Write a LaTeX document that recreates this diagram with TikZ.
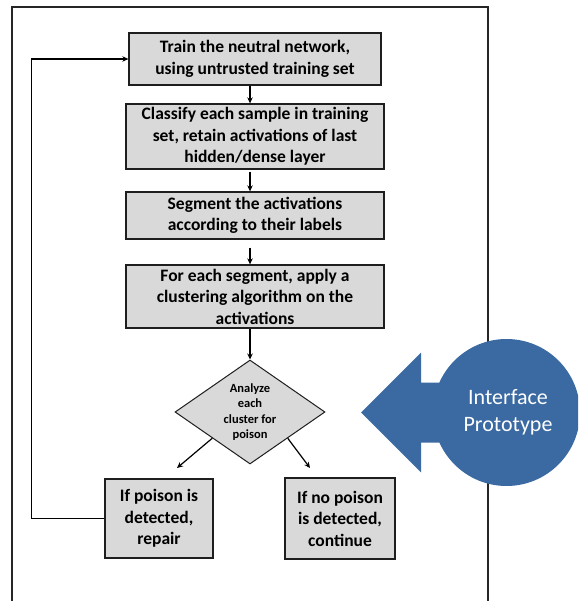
\documentclass[tikz,border=0pt]{standalone}
\usepackage{fontspec}
\setmainfont{Carlito}
\usetikzlibrary{arrows.meta,shapes.geometric,calc}
\definecolor{boxgray}{RGB}{217,217,217}
\definecolor{edgegray}{RGB}{30,30,30}
\definecolor{protoblue}{RGB}{58,106,161}
\begin{document}
\begin{tikzpicture}[x=1pt,y=-1pt,
  stepbox/.style={draw=edgegray,line width=1.3pt,fill=boxgray,align=center,
    inner sep=0pt,font=\bfseries\fontsize{17.5}{21.5}\selectfont},
  decision/.style={diamond,draw=edgegray,line width=1pt,fill=boxgray,align=center,
    inner sep=0pt,font=\bfseries\fontsize{12.5}{15.3}\selectfont},
  flow/.style={line width=1.2pt,draw=black,-{Stealth[length=6pt,width=5.5pt]}},
  loopline/.style={line width=1.2pt,draw=black},
  frameline/.style={line width=1.2pt,draw=black!85}]
\useasboundingbox (0,0) rectangle (578,601);
\clip (0,0) rectangle (578,601);

% outer frame
\draw[frameline] (12,601) -- (12,7) -- (488,7) -- (488,601);

% boxes
\node[stepbox,minimum width=252pt,minimum height=52pt] (b1) at (255,59)
  {Train the neutral network,\\using untrusted training set};
\node[stepbox,minimum width=258pt,minimum height=65pt] (b2) at (255,136.5)
  {Classify each sample in training\\set, retain activations of last\\hidden/dense layer};
\node[stepbox,minimum width=258pt,minimum height=47pt] (b3) at (255,215.5)
  {Segment the activations\\according to their labels};
\node[stepbox,minimum width=258pt,minimum height=63pt] (b4) at (255,296.5)
  {For each segment, apply a\\clustering algorithm on the\\activations};
\node[decision,minimum width=150pt,minimum height=104pt,aspect=1.44] (d) at (250,412)
  {Analyze\\each\\cluster for\\poison};
\node[stepbox,minimum width=108pt,minimum height=79pt] (b5) at (159,518.5)
  {If poison is\\detected,\\repair};
\node[stepbox,minimum width=110pt,minimum height=81pt] (b6) at (340,518.5)
  {If no poison\\is detected,\\continue};

% connectors
\draw[flow] (b1.south -| d.north) -- (b2.north -| d.north);
\draw[flow] ($(b2.south -| d.north)+(0,2)$) -- (b3.north -| d.north);
\draw[flow] ($(b3.south -| d.north)+(0,8)$) -- (b4.north -| d.north);
\draw[flow] (b4.south -| d.north) -- (d.north);
\coordinate (lend) at (177,468);
\coordinate (rend) at (310,468);
\draw[flow] ($(d.west)!0.5!(d.south)$) -- (lend);
\draw[flow] ($(d.east)!0.5!(d.south)$) -- (rend);
\draw[flow] (b5.west) -- ++(-73,0) |- (b1.west);

% interface prototype shape
\fill[protoblue] (361,412.5) -- (421,352.5) -- (421,382.5) -- (470,382.5)
  -- (470,442.5) -- (421,442.5) -- (421,472.5) -- cycle;
\fill[protoblue] (506.5,412.5) circle[radius=73.5pt];
\node[text=white,align=center,font=\fontsize{22}{27}\selectfont] (ip) at (508,412.5)
  {Interface\\Prototype};
\end{tikzpicture}
\end{document}
